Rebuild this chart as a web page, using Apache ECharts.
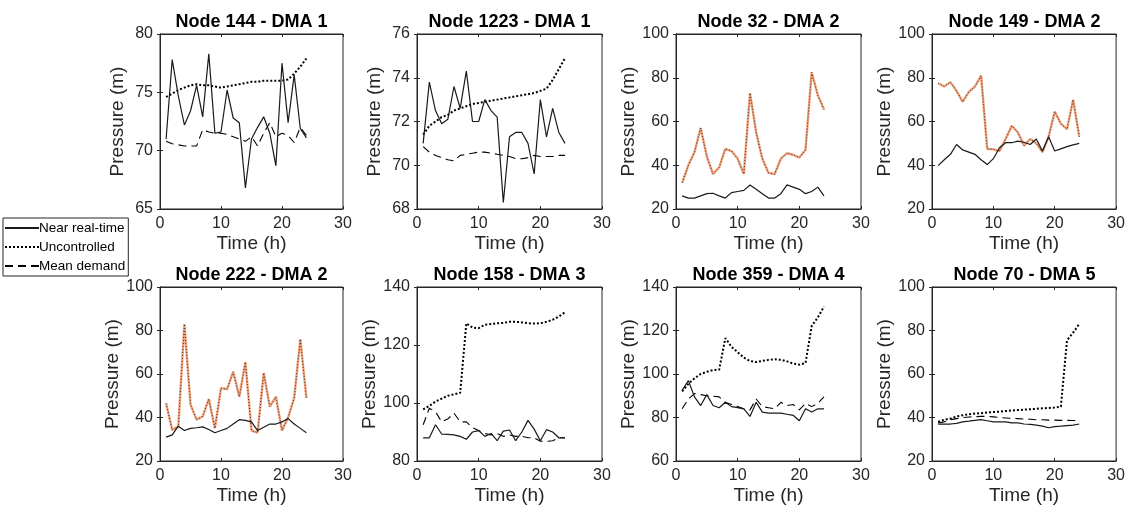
<!DOCTYPE html>
<html><head><meta charset="utf-8">
<script src="https://cdn.jsdelivr.net/npm/echarts@6/dist/echarts.min.js"></script>
<style>html,body{margin:0;padding:0;background:#fff}#c{width:1128px;height:514px}</style>
</head><body><div id="c"></div><script>
const hours = [1,2,3,4,5,6,7,8,9,10,11,12,13,14,15,16,17,18,19,20,21,22,23,24];
const seriesNames = ['Near real-time','Uncontrolled','Mean demand'];
const titles = ['Node 144 - DMA 1','Node 1223 - DMA 1','Node 32 - DMA 2','Node 149 - DMA 2','Node 222 - DMA 2','Node 158 - DMA 3','Node 359 - DMA 4','Node 70 - DMA 5'];
const yMins = [65,68,20,20,20,80,60,20];
const yMaxs = [80,76,100,100,100,140,140,100];
const yIntervals = [5,2,20,20,20,20,20,20];
const xTicks = [0,10,20,30];

const n144_near = [71.0,77.8,74.7,72.2,73.4,75.6,72.9,78.3,71.5,71.6,75.2,72.8,72.4,66.8,71.0,72.0,72.9,71.5,68.7,77.5,72.4,76.5,71.9,71.1];
const n144_unc  = [74.6,74.9,75.2,75.4,75.6,75.7,75.6,75.6,75.5,75.4,75.5,75.6,75.7,75.8,75.9,75.9,76.0,76.0,76.0,76.0,76.1,76.6,77.2,77.9];
const n144_mean = [70.8,70.6,70.5,70.4,70.4,70.4,71.8,71.6,71.5,71.5,71.4,71.2,71.0,70.8,71.2,70.4,71.5,72.4,71.2,71.5,71.3,70.7,72.0,71.3];

const n1223_near = [71.0,73.8,72.5,71.9,72.1,73.6,72.6,74.3,72.0,72.0,73.0,72.5,72.2,68.3,71.3,71.5,71.5,71.0,69.6,73.0,71.3,72.6,71.5,71.0];
const n1223_unc  = [71.4,71.8,72.0,72.2,72.3,72.5,72.6,72.7,72.8,72.85,72.9,72.95,73.0,73.05,73.1,73.15,73.2,73.25,73.3,73.4,73.5,73.9,74.4,74.9];
const n1223_mean = [70.85,70.6,70.45,70.35,70.25,70.2,70.45,70.5,70.55,70.6,70.6,70.55,70.5,70.45,70.4,70.3,70.3,70.35,70.45,70.4,70.4,70.4,70.45,70.45];

const n32_near = [26,25,25,26,27,27.2,26,25,27.5,28,28.5,31,29,27,25,25,27,31,30,29,27,28,30,26];
const n32_unc  = [32,40,46,57,44,36,39,47.5,46.5,43,36,73,55,43,36.5,36,43,45.5,44.8,43.5,47,82.5,72,65.5];
const n32_mean = [32,40,46,57,44,36,39,47.5,46.5,43,36,73,55,43,36.5,36,43,45.5,44.8,43.5,47,82.5,72,65.5];

const n149_near = [39.8,42.5,45,49.5,47,46,45,42.5,40.3,43,48,50.3,50.3,51,50.5,49.5,52,46.5,53,46.5,47.5,48.5,49.3,50];
const n149_unc  = [77.5,76,78,74,69,73.5,76,81,47.5,47.3,46.5,52,58,55,49,52,50,46,53,64.5,59,56.5,70,53];
const n149_mean = [77.5,76,78,74,69,73.5,76,81,47.5,47.3,46.5,52,58,55,49,52,50,46,53,64.5,59,56.5,70,53];

const n222_near = [31,32,36,34,35,35.3,35.7,34.5,33,34,35,37,39,38.7,38,34,35.5,37,37,38,39.5,37,35,33];
const n222_unc  = [46.5,34.3,35.8,83,46,39,40.5,48.5,35,53.5,53,61,49.5,65.5,34,33,60.5,45,49.5,34,40,49,76,49];
const n222_mean = [46.5,34.3,35.8,83,46,39,40.5,48.5,35,53.5,53,61,49.5,65.5,34,33,60.5,45,49.5,34,40,49,76,49];

const n158_near = [88,88,92.5,89.3,89.2,89,88.5,87.5,90,90.5,88.5,89.5,87,90.3,90.7,87,90,94,91,87,90.8,90,88,88];
const n158_unc  = [97.8,99,100.5,101.5,102.5,103,103.5,127.5,126,125.8,127,127.2,127.5,127.6,128,128,127.8,127.5,127.4,127.5,128,128.7,129.8,131.3];
const n158_mean = [92.5,98.2,97,93.5,94.5,96.5,93.5,93.5,91.5,90.5,89.5,89,89.5,88.5,89,88.5,88.5,88,88,86.8,86.8,87,88,88];

const n359_near = [92.5,97,89.5,85.5,90.5,85.5,84.5,87,85,84.5,84,80.5,87,82.5,82,82,82,81.5,81,78.5,84,82.5,84,84];
const n359_unc  = [92,95.5,98,100,101,101.8,102,116.5,112.5,110,107.5,106,105.5,106,106.5,106.8,106.5,105.8,104.8,104.3,105,122,126,131];
const n359_mean = [84,88.5,91,90.5,90,89.8,89.5,87,86,85,84,83.5,88.5,85,84.5,84,87,85.5,86,83.5,86.5,85,86.5,89.5];

const n70_near = [37,37,37,37.3,38,38.3,38.7,39,38.5,38,38,38,37.5,37.5,37,36.8,36.5,36,35.3,35.8,36,36.3,36.5,37];
const n70_unc  = [38,39,39.5,40.5,41,41.5,41.8,42,42.3,42.5,42.7,43,43.2,43.4,43.6,43.8,44,44.2,44.4,44.6,45,75.5,79,83];
const n70_mean = [37.5,38,39,39.5,40,40.2,40.4,40.5,40.5,40.3,40,39.8,39.6,39.5,39.3,39.2,39,39,38.8,38.8,38.7,38.7,38.6,38.6];

const nearAll = [n144_near,n1223_near,n32_near,n149_near,n222_near,n158_near,n359_near,n70_near];
const uncAll  = [n144_unc,n1223_unc,n32_unc,n149_unc,n222_unc,n158_unc,n359_unc,n70_unc];
const meanAll = [n144_mean,n1223_mean,n32_mean,n149_mean,n222_mean,n158_mean,n359_mean,n70_mean];
const orangeMean = [false,false,true,true,true,false,false,false];

// layout
const colLeft = [160,417,676,932];
const colWidth = [183,185,185,185];
const rowTop = [34,287];
const rowHeight = [175,174];
const FONT = 'Liberation Sans, Arial, Helvetica, sans-serif';
const AX = '#262626';

const pairs = arr => arr.map((v,i)=>[hours[i], v]);

const grids=[], xAxes=[], yAxes=[], series=[], titleArr=[];
for (let i=0;i<8;i++){
  const r = Math.floor(i/4), c = i%4;
  grids.push({left:colLeft[c], top:rowTop[r], width:colWidth[c], height:rowHeight[r],
    show:true, borderColor:AX, borderWidth:1, backgroundColor:'#fff', containLabel:false});
  titleArr.push({text:titles[i], left:colLeft[c]+colWidth[c]/2, top:rowTop[r]-21, textAlign:'center', padding:0,
    textStyle:{fontSize:18, fontWeight:'bold', color:'#000', fontFamily:FONT}});
  const common = {type:'value', gridIndex:i, splitLine:{show:false},
    axisLine:{show:true, lineStyle:{color:AX, width:1}},
    axisTick:{show:true, inside:true, length:3, lineStyle:{color:AX}}};
  xAxes.push(Object.assign({}, common, {position:'bottom', min:xTicks[0], max:xTicks[xTicks.length-1], interval:10,
    name:'Time (h)', nameLocation:'middle', nameGap:25,
    nameTextStyle:{fontSize:19, color:AX, fontFamily:FONT},
    axisLabel:{fontSize:16, color:AX, margin:7, fontFamily:FONT, showMaxLabel:true, showMinLabel:true}}));
  xAxes.push(Object.assign({}, common, {position:'top', min:xTicks[0], max:xTicks[xTicks.length-1], interval:10,
    axisLabel:{show:false}}));
  yAxes.push(Object.assign({}, common, {position:'left', min:yMins[i], max:yMaxs[i], interval:yIntervals[i],
    name:'Pressure (m)', nameLocation:'middle', nameGap:33,
    nameTextStyle:{fontSize:19, color:AX, fontFamily:FONT},
    axisLabel:{fontSize:16, color:AX, margin:7, fontFamily:FONT}}));
  yAxes.push(Object.assign({}, common, {position:'right', min:yMins[i], max:yMaxs[i], interval:yIntervals[i],
    axisLabel:{show:false}}));
  const xi = 2*i, yi = 2*i;
  if (orangeMean[i]) {
    series.push({name:seriesNames[2], type:'line', xAxisIndex:xi, yAxisIndex:yi, data:pairs(meanAll[i]),
      symbol:'none', silent:true, color:'#f08a58',
      lineStyle:{color:'#ef8450', width:2.4, opacity:0.75, type:'solid'}});
  } else {
    series.push({name:seriesNames[2], type:'line', xAxisIndex:xi, yAxisIndex:yi, data:pairs(meanAll[i]),
      symbol:'none', silent:true, color:'#000',
      lineStyle:{color:'#000', width:1.1, type:[8,5]}});
  }
  series.push({name:seriesNames[1], type:'line', xAxisIndex:xi, yAxisIndex:yi, data:pairs(uncAll[i]),
    symbol:'none', silent:true, color:'#000',
    lineStyle:{color: orangeMean[i]?'#3a2a20':'#000', width: orangeMean[i]?1:2, type: orangeMean[i]?[1,2]:[2,2]}});
  series.push({name:seriesNames[0], type:'line', xAxisIndex:xi, yAxisIndex:yi, data:pairs(nearAll[i]),
    symbol:'none', silent:true, color:'#000', z:3,
    lineStyle:{color:'#1a1a1a', width:1.2, type:'solid'}});
}

const chart = echarts.init(document.getElementById('c'), null, {renderer:'canvas'});
chart.setOption({
  backgroundColor:'#fff',
  animation:false,
  title:titleArr,
  legend:{data:seriesNames, orient:'vertical', left:3, top:218, itemWidth:34, itemHeight:12, itemGap:5,
    padding:[3,3,3,1], borderColor:AX, borderWidth:1, backgroundColor:'#fff',
    itemStyle:{opacity:0, borderWidth:0},
    textStyle:{fontSize:13.5, color:'#000', fontFamily:FONT, padding:[0,0,0,-5]}, selectedMode:false},
  grid:grids, xAxis:xAxes, yAxis:yAxes, series:series
});
</script></body></html>
